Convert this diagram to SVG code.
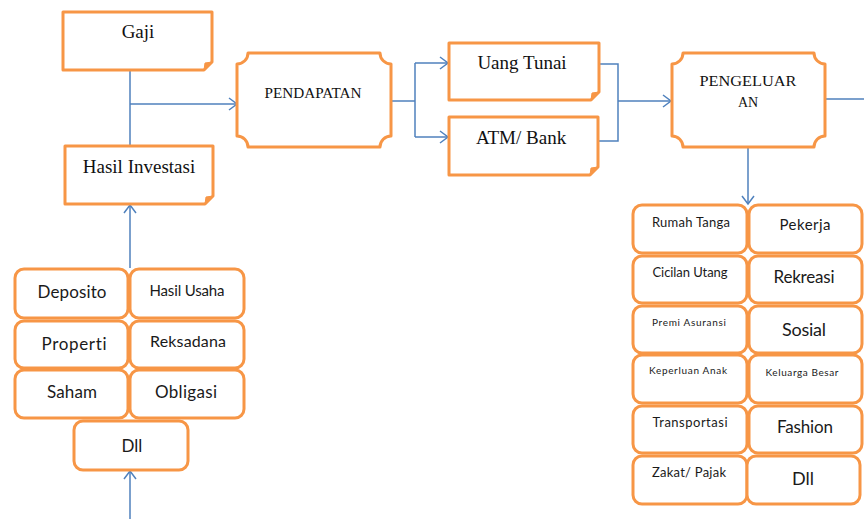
<svg xmlns="http://www.w3.org/2000/svg" width="864" height="519" viewBox="0 0 864 519">
<defs>
<marker id="arr" markerUnits="userSpaceOnUse" markerWidth="12" markerHeight="14" refX="9" refY="7" orient="auto">
<path d="M1,1 L9,7 L1,13" fill="none" stroke="#4f81bd" stroke-width="1.5"/>
</marker>
</defs>
<style>
.box{fill:#fff;stroke:#f79646;stroke-width:3;stroke-linejoin:round}
.fold{fill:#f79646;stroke:#f79646;stroke-width:1}
.con{fill:none;stroke:#4f81bd;stroke-width:1.5}
.ser{font-family:"Liberation Serif",serif;fill:#111;text-anchor:middle}
.san{font-family:Lato,"Liberation Sans",sans-serif;fill:#1a1a1a;text-anchor:middle;font-variant-ligatures:none;font-feature-settings:"liga" 0}
</style>
<rect width="864" height="519" fill="#fff"/>
<g id="connectors">
<path class="con" d="M130,70 V146"/>
<path class="con" d="M130,104 H237" marker-end="url(#arr)"/>
<path class="con" d="M130,268 V205" marker-end="url(#arr)"/>
<path class="con" d="M130,519 V471" marker-end="url(#arr)"/>
<path class="con" d="M391,101 H415"/>
<path class="con" d="M415,63 V137"/>
<path class="con" d="M415,63 H448" marker-end="url(#arr)"/>
<path class="con" d="M415,137 H448" marker-end="url(#arr)"/>
<path class="con" d="M599,64 H618 V141 H598"/>
<path class="con" d="M618,101 H671" marker-end="url(#arr)"/>
<path class="con" d="M825,99 H864"/>
<path class="con" d="M748,148 V204" marker-end="url(#arr)"/>
</g>
<g id="gaji">
<path class="box" d="M63,12 H212 V62 L204,70 H63 Z"/>
<path class="fold" d="M212,62 L204,70 L205,63 Z"/>
<text class="ser" x="138" y="38" font-size="19">Gaji</text>
</g>
<g id="hasil-investasi">
<path class="box" d="M65,146 H213 V196 L205,204 H65 Z"/>
<path class="fold" d="M213,196 L205,204 L206,197 Z"/>
<text class="ser" x="139" y="173" font-size="19">Hasil Investasi</text>
</g>
<g id="pendapatan">
<path class="box" d="M248,53 H380 A11,11 0 0 0 391,64 V136 A11,11 0 0 0 380,147 H248 A11,11 0 0 0 237,136 V64 A11,11 0 0 0 248,53 Z"/>
<text class="ser" x="313" y="98" font-size="14" textLength="97" lengthAdjust="spacingAndGlyphs">PENDAPATAN</text>
</g>
<g id="uang-tunai">
<path class="box" d="M449,43 H599 V92 L591,100 H449 Z"/>
<path class="fold" d="M599,92 L591,100 L592,93 Z"/>
<text class="ser" x="522" y="69" font-size="19">Uang Tunai</text>
</g>
<g id="atm-bank">
<path class="box" d="M449,117 H598 V167 L590,175 H449 Z"/>
<path class="fold" d="M598,167 L590,175 L591,168 Z"/>
<text class="ser" x="521" y="144" font-size="19">ATM/ Bank</text>
</g>
<g id="pengeluaran">
<path class="box" d="M683,53 H814 A11,11 0 0 0 825,64 V136 A11,11 0 0 0 814,147 H683 A11,11 0 0 0 672,136 V64 A11,11 0 0 0 683,53 Z"/>
<text class="ser" x="748" y="86" font-size="14" textLength="97" lengthAdjust="spacingAndGlyphs">PENGELUAR</text>
<text class="ser" x="748" y="107" font-size="14">AN</text>
</g>
<g id="deposito"><rect class="box" x="15" y="269" width="113" height="49" rx="9"/><text class="san" x="72" y="298" font-size="17" textLength="69">Deposito</text></g>
<g id="hasil-usaha"><rect class="box" x="130" y="269" width="114" height="49" rx="9"/><text class="san" x="187" y="296" font-size="15" textLength="75">Hasil Usaha</text></g>
<g id="properti"><rect class="box" x="15" y="321" width="113" height="47" rx="9"/><text class="san" x="74" y="350" font-size="17" textLength="65">Properti</text></g>
<g id="reksadana"><rect class="box" x="130" y="321" width="114" height="47" rx="9"/><text class="san" x="188" y="347" font-size="16" textLength="76">Reksadana</text></g>
<g id="saham"><rect class="box" x="15" y="370" width="113" height="48" rx="9"/><text class="san" x="72" y="398" font-size="17" textLength="50">Saham</text></g>
<g id="obligasi"><rect class="box" x="130" y="370" width="114" height="48" rx="9"/><text class="san" x="186" y="398" font-size="17" textLength="62">Obligasi</text></g>
<g id="dll-1"><rect class="box" x="74" y="421" width="114" height="49" rx="9"/><text class="san" x="132" y="452" font-size="17">Dll</text></g>
<g id="rumah-tanga"><rect class="box" x="633" y="205" width="114" height="48" rx="9"/><text class="san" x="691" y="227" font-size="13" textLength="78">Rumah Tanga</text></g>
<g id="pekerja"><rect class="box" x="749" y="205" width="113" height="48" rx="9"/><text class="san" x="805" y="230" font-size="15" textLength="51">Pekerja</text></g>
<g id="cicilan-utang"><rect class="box" x="633" y="256" width="114" height="47" rx="9"/><text class="san" x="690" y="277" font-size="13" textLength="75">Cicilan Utang</text></g>
<g id="rekreasi"><rect class="box" x="749" y="256" width="113" height="47" rx="9"/><text class="san" x="804" y="283" font-size="17" textLength="61">Rekreasi</text></g>
<g id="premi-asuransi"><rect class="box" x="633" y="306" width="114" height="47" rx="9"/><text class="san" x="689" y="326" font-size="10" textLength="74">Premi  Asuransi</text></g>
<g id="sosial"><rect class="box" x="749" y="306" width="113" height="47" rx="9"/><text class="san" x="804" y="336" font-size="18" textLength="44">Sosial</text></g>
<g id="keperluan-anak"><rect class="box" x="633" y="355" width="114" height="48" rx="9"/><text class="san" x="688" y="374" font-size="10" textLength="78">Keperluan  Anak</text></g>
<g id="keluarga-besar"><rect class="box" x="749" y="355" width="113" height="48" rx="9"/><text class="san" x="802" y="376" font-size="10" textLength="73">Keluarga  Besar</text></g>
<g id="transportasi"><rect class="box" x="633" y="406" width="114" height="47" rx="9"/><text class="san" x="690" y="427" font-size="13" textLength="75">Transportasi</text></g>
<g id="fashion"><rect class="box" x="749" y="406" width="113" height="47" rx="9"/><text class="san" x="805" y="433" font-size="17" textLength="56">Fashion</text></g>
<g id="zakat-pajak"><rect class="box" x="633" y="456" width="114" height="48" rx="9"/><text class="san" x="689" y="477" font-size="13" textLength="74">Zakat/ Pajak</text></g>
<g id="dll-2"><rect class="box" x="747" y="456" width="113" height="48" rx="9"/><text class="san" x="803" y="485" font-size="18">Dll</text></g>
</svg>
